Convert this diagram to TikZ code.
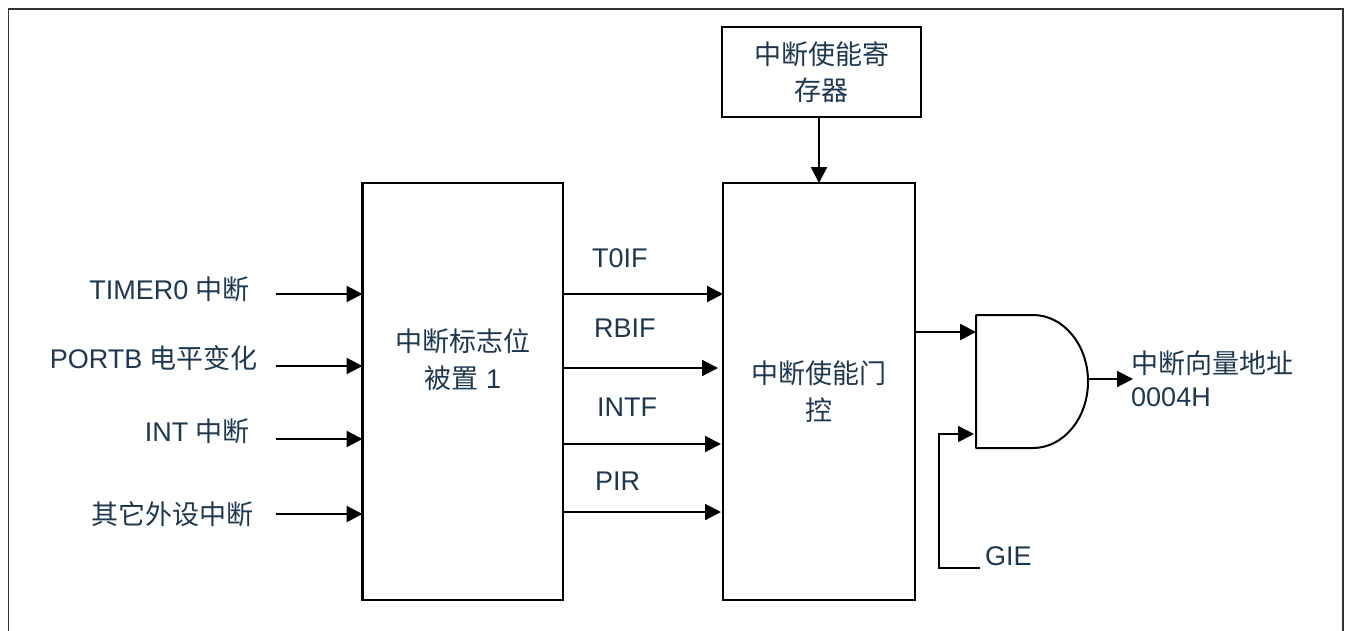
\documentclass[tikz,border=0pt]{standalone}
\usepackage{fontspec}
\setmainfont{Liberation Sans}
\newfontfamily\cjk{Noto Sans CJK SC}
\usetikzlibrary{arrows.meta}
\definecolor{txt}{RGB}{31,56,82}
\begin{document}
\begin{tikzpicture}[x=1pt,y=-1pt,
  box/.style={draw=black, line width=2.5pt, inner sep=0pt, outer sep=0pt, text=txt, align=center,
    font=\fontsize{27}{36.5}\selectfont},
  lbl/.style={text=txt, inner sep=0pt, font=\fontsize{27}{36.5}\selectfont, text height=23pt, text depth=4pt},
  arr/.style={line width=2.4pt, -{Triangle[length=16pt,width=16pt]}},
  arrm/.style={line width=2.1pt, -{Triangle[length=16pt,width=16pt]}},
  arrt/.style={line width=1.6pt, -{Triangle[length=16pt,width=16pt]}},
]
\useasboundingbox (0,0) rectangle (1348,630);
% outer frame (bottom edge lies below the picture)
\draw[line width=1.5pt, black!80] (8.5,650) -- (8.5,9) -- (1343,9) -- (1343,650);

% boxes
\node[box, minimum width=199pt, minimum height=90pt] (reg) at (821.5,72) {{\cjk 中断使能寄}\\{\cjk 存器}};
\node[box, minimum width=200.5pt, minimum height=417pt] (flag) at (462.75,391.5) {};
\node[text=txt, inner sep=0pt, align=center, font=\fontsize{27}{36.5}\selectfont] (flagtxt) at (463,359.5) {{\cjk 中断标志位}\\{\cjk 被置} 1};
\node[box, minimum width=192pt, minimum height=417pt] (gate) at (819,391.5) {{\cjk 中断使能门}\\{\cjk 控}};

% register -> gate control
\draw[arrm] (reg.south -| gate.north) -- (gate.north);

% left inputs
\coordinate (i1) at (276,294);
\coordinate (i2) at (276,366);
\coordinate (i3) at (276,439);
\coordinate (i4) at (276,514);
\node[lbl, anchor=east] (l1) at (250,290) {TIMER0 {\cjk 中断}};
\node[lbl, anchor=east] (l2) at (258,359) {PORTB {\cjk 电平变化}};
\node[lbl, anchor=east] (l3) at (250,432) {INT {\cjk 中断}};
\node[lbl, anchor=east] (l4) at (254,515) {\cjk 其它外设中断};
\draw[arr] (i1) -- (i1 -| flag.west);
\draw[arr] (i2) -- (i2 -| flag.west);
\draw[arr] (i3) -- (i3 -| flag.west);
\draw[arr] (i4) -- (i4 -| flag.west);

% flag signals
\coordinate (f1) at (563,294);
\coordinate (f2) at (563,368);
\coordinate (f3) at (563,444);
\coordinate (f4) at (563,512);
\draw[arrm] (flag.east |- f1) -- (f1 -| gate.west);
\draw[arrm] (flag.east |- f2) -- ([xshift=-5pt]f2 -| gate.west);
\draw[arrm] (flag.east |- f3) -- ([xshift=-2pt]f3 -| gate.west);
\draw[arrm] (flag.east |- f4) -- ([xshift=-2pt]f4 -| gate.west);
\node[lbl, anchor=west] (s1) at (592,258) {T0IF};
\node[lbl, anchor=west] (s2) at (594,328) {RBIF};
\node[lbl, anchor=west] (s3) at (597,407) {INTF};
\node[lbl, anchor=west] (s4) at (595,481) {PIR};

% AND gate
\draw[line width=2pt, line join=round] (976,315) -- (1033,315)
  .. controls (1063.4,315) and (1088,344.8) .. (1088,381.5)
  .. controls (1088,418.2) and (1063.4,448) .. (1033,448)
  -- (976,448) -- cycle;
\coordinate (gin1) at (976,332);
\coordinate (gin2) at (974,434);
\coordinate (gout) at (1088,379);
\coordinate (vec) at (1133,379);
\coordinate (gie) at (980,568);
\draw[arr] (gate.east |- gin1) -- (gin1);
\draw[arrt] (gie) -- (939,568) -- (939,434) -- (gin2);
\node[lbl, anchor=west] (gietxt) at (985,556) {GIE};
\draw[arrm] (gout) -- (vec);
\node[text=txt, inner sep=0pt, align=left, anchor=west, font=\fontsize{27}{33}\selectfont] (vectxt) at (1131,378.5) {{\cjk 中断向量地址}\\0004H};
\end{tikzpicture}
\end{document}
